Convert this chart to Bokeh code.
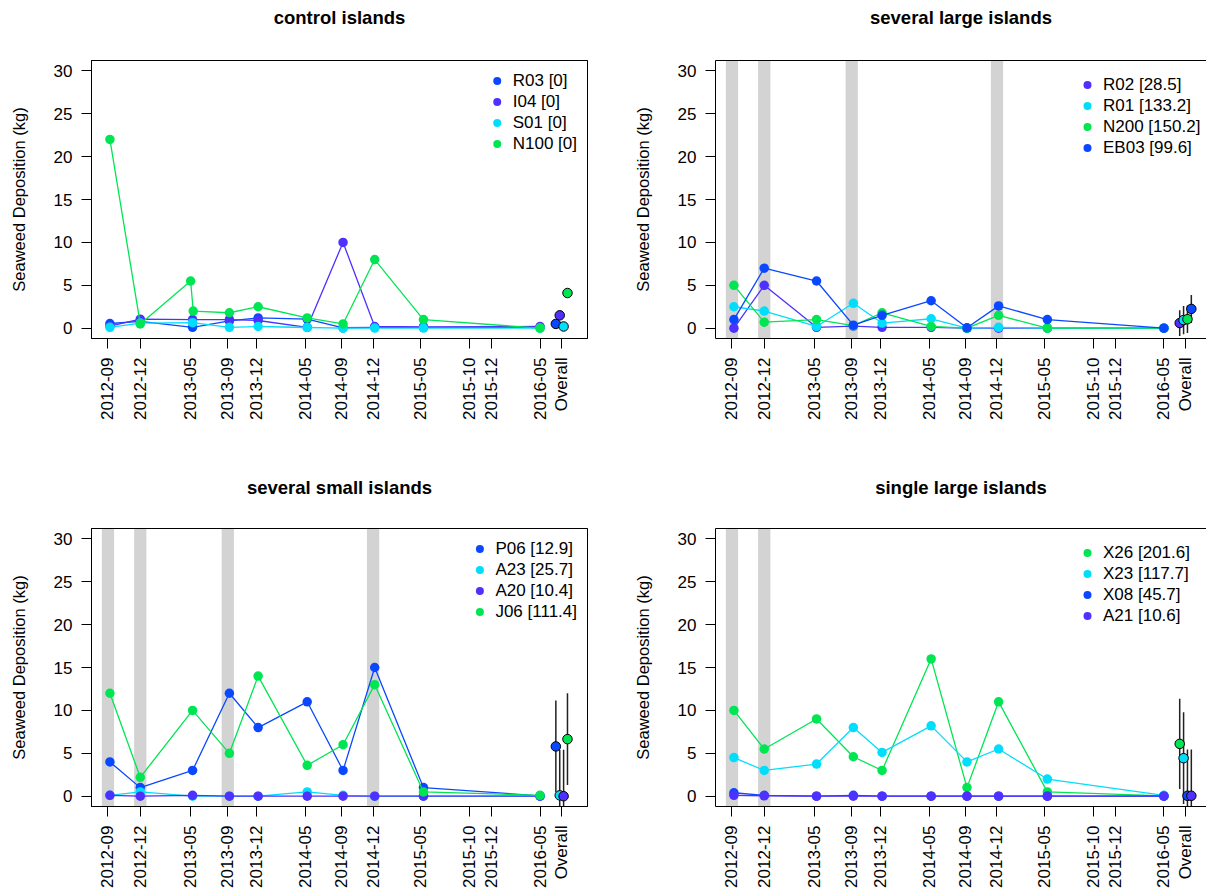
import numpy as np
from bokeh.plotting import figure
from bokeh.layouts import gridplot
from bokeh.models import (FixedTicker, Legend, LegendItem, BoxAnnotation,
                          LinearAxis, Range1d)
from bokeh.embed import file_html
from bokeh.resources import INLINE

FONT = "Liberation Sans"
BLUE = "#0A48FF"
PURPLE = "#4E30FF"
CYAN = "#00DEFB"
GREEN = "#00E653"

# ---------------- data ----------------
base_date = "2012-09-15"
tick_dates = ["2012-09-15", "2012-12-24", "2013-05-29", "2013-09-21", "2013-12-20",
              "2014-05-21", "2014-09-09", "2014-12-15", "2015-05-12", "2015-10-09",
              "2015-12-17", "2016-05-15"]
tick_labels = ["2012-09", "2012-12", "2013-05", "2013-09", "2013-12", "2014-05",
               "2014-09", "2014-12", "2015-05", "2015-10", "2015-12", "2016-05"]
overall_date = "2016-07-21"
overall_label = "Overall"
y_ticks = [0, 5, 10, 15, 20, 25, 30]

sample_dates = ["2012-09-21", "2012-12-24", "2013-06-04", "2013-09-26", "2013-12-24",
                "2014-05-25", "2014-09-13", "2014-12-20", "2015-05-20", "2016-05-15"]
n100_dates = ["2012-09-21", "2012-12-24", "2013-05-29", "2013-06-06", "2013-09-26",
              "2013-12-24", "2014-05-25", "2014-09-13", "2014-12-20", "2015-05-20",
              "2016-05-15"]

# control islands
ctrl_title = "control islands"
ctrl_names = ["R03 [0]", "I04 [0]", "S01 [0]", "N100 [0]"]
ctrl_colors = [BLUE, PURPLE, CYAN, GREEN]
ctrl_R03 = [0.55, 0.8, 0.1, 0.85, 1.2, 1.05, 0.05, 0.1, 0.1, 0.1]
ctrl_I04 = [0.25, 1.05, 1.0, 1.0, 0.9, 0.1, 10.0, 0.2, 0.15, 0.2]
ctrl_S01 = [0.1, 0.6, 0.65, 0.1, 0.2, 0.08, 0.0, 0.02, 0.02, 0.02]
ctrl_N100 = [22.0, 0.5, 5.5, 2.0, 1.8, 2.5, 1.2, 0.5, 8.0, 1.0, 0.0]
ctrl_overall = [0.5, 1.5, 0.2, 4.1]
ctrl_err = None
ctrl_bands = []

# several large islands
large_title = "several large islands"
large_names = ["R02 [28.5]", "R01 [133.2]", "N200 [150.2]", "EB03 [99.6]"]
large_colors = [PURPLE, CYAN, GREEN, BLUE]
large_R02 = [0.0, 5.0, 0.1, 0.25, 0.1, 0.1, 0.0, 0.0, 0.0, 0.0]
large_R01 = [2.5, 2.0, 0.2, 2.9, 0.6, 1.1, 0.0, 0.1, 0.0, 0.0]
large_N200 = [5.0, 0.7, 1.0, 0.3, 1.8, 0.2, 0.0, 1.5, 0.0, 0.0]
large_EB03 = [1.0, 7.0, 5.5, 0.35, 1.5, 3.2, 0.05, 2.6, 1.0, 0.0]
large_overall = [0.6, 0.95, 1.05, 2.25]
large_err = [1.5, 1.65, 1.6, 1.63]
large_bands = ["2012-09-15", "2012-12-24", "2013-09-21", "2014-12-15"]

# several small islands
small_title = "several small islands"
small_names = ["P06 [12.9]", "A23 [25.7]", "A20 [10.4]", "J06 [111.4]"]
small_colors = [BLUE, CYAN, PURPLE, GREEN]
small_P06 = [4.0, 1.0, 3.0, 12.0, 8.0, 11.0, 3.0, 15.0, 1.0, 0.05]
small_A23 = [0.1, 0.5, 0.0, 0.0, 0.0, 0.5, 0.1, 0.0, 0.0, 0.0]
small_A20 = [0.1, 0.0, 0.1, 0.0, 0.0, 0.0, 0.0, 0.0, 0.0, 0.0]
small_J06 = [12.0, 2.2, 10.0, 5.0, 14.0, 3.6, 6.0, 13.0, 0.5, 0.1]
small_overall = [5.8, 0.1, 0.0, 6.65]
small_err = [5.35, 5.3, 5.4, 5.35]
small_bands = ["2012-09-15", "2012-12-24", "2013-09-21", "2014-12-15"]

# single large islands
single_title = "single large islands"
single_names = ["X26 [201.6]", "X23 [117.7]", "X08 [45.7]", "A21 [10.6]"]
single_colors = [GREEN, CYAN, BLUE, PURPLE]
single_X26 = [10.0, 5.5, 9.0, 4.6, 3.0, 16.0, 1.0, 11.0, 0.5, 0.05]
single_X23 = [4.5, 3.0, 3.75, 8.0, 5.1, 8.2, 4.0, 5.5, 2.0, 0.1]
single_X08 = [0.4, 0.1, 0.0, 0.1, 0.0, 0.0, 0.0, 0.0, 0.0, 0.0]
single_A21 = [0.1, 0.05, 0.0, 0.0, 0.0, 0.0, 0.0, 0.0, 0.0, 0.0]
single_overall = [6.1, 4.43, 0.05, 0.05]
single_err = [5.25, 5.35, 5.4, 5.4]
single_bands = ["2012-09-15", "2012-12-24"]


def to_days(dates):
    b = np.datetime64(base_date, "D")
    return [int((np.datetime64(d, "D") - b) / np.timedelta64(1, "D")) for d in dates]


tick_days = to_days(tick_dates)
overall_day = to_days([overall_date])[0]
all_ticks = tick_days + [overall_day]
overrides = {d: l for d, l in zip(all_ticks, tick_labels + [overall_label])}

DODGE = 12      # days between overall markers
BAND_HALF = 19  # half width of grey bands in days
FRAME_H = 278


def panel(title, names, colors, dates_list, values_list, overall, err, bands, col, row):
    left = col == 0
    top = row == 0
    p = figure(frame_width=496 if left else 491, frame_height=FRAME_H,
               min_border_left=91 if left else 112,
               min_border_right=16 if left else 0,
               min_border_top=60 if top else 82,
               min_border_bottom=108 if top else 86,
               x_range=Range1d(-51, 1485 if left else 1470),
               y_range=Range1d(-1.2, 31.2),
               output_backend="svg", toolbar_location=None, title=title)
    p.background_fill_color = "white"
    p.border_fill_color = "white"
    p.xgrid.visible = False
    p.ygrid.visible = False

    # top axis: draws the upper edge of the box and spaces the title upward
    ta = LinearAxis(ticker=FixedTicker(ticks=[]), major_tick_line_color=None,
                    minor_tick_line_color=None, major_label_text_font_size="10px",
                    major_label_text_alpha=0,
                    axis_line_color="black", major_tick_out=25, major_tick_in=0,
                    major_label_standoff=0)
    p.add_layout(ta, "above")

    p.title.text_font = FONT
    p.title.text_font_size = "18.5px"
    p.title.text_font_style = "bold"
    p.title.align = "center"
    p.title.vertical_align = "top"
    p.title.text_color = "black"
    p.title.standoff = 12 if top else 8

    for b in bands:
        d = to_days([b])[0]
        p.add_layout(BoxAnnotation(left=d - BAND_HALF, right=d + BAND_HALF,
                                   fill_color="#D3D3D3", fill_alpha=1.0,
                                   line_alpha=0, level="underlay"))

    items = []
    for name, c, ds, vs in zip(names, colors, dates_list, values_list):
        xs = to_days(ds)
        p.line(xs, vs, line_color=c, line_width=1.3)
        r = p.scatter(xs, vs, size=9.5, fill_color=c, line_color=c, line_width=0)
        items.append(LegendItem(label=name, renderers=[r]))

    ox = [overall_day + (i - 1.5) * DODGE for i in range(len(overall))]
    if err is not None:
        p.segment(ox, [m - e for m, e in zip(overall, err)],
                  ox, [m + e for m, e in zip(overall, err)],
                  line_color="#222222", line_width=1.5)
    p.scatter(ox, overall, size=9.5, fill_color=colors, line_color="black", line_width=1)

    leg_kw = dict(items=items, margin=0, border_line_alpha=0, background_fill_alpha=0,
                  label_text_font=FONT, label_text_font_size="17px",
                  label_text_color="black",
                  glyph_width=20, glyph_height=21, label_height=21,
                  spacing=0, label_standoff=6)
    if left:
        leg = Legend(location="top_right", padding=10, **leg_kw)
    else:
        leg = Legend(location=(356, 174), padding=6, **leg_kw)
    p.add_layout(leg)

    # axes
    p.xaxis.ticker = FixedTicker(ticks=all_ticks)
    p.xaxis.major_label_overrides = overrides
    p.xaxis.major_label_orientation = np.pi / 2
    p.yaxis.ticker = FixedTicker(ticks=y_ticks)
    p.yaxis.major_label_orientation = "horizontal"
    for ax in (p.below[0], p.yaxis[0]):
        ax.major_label_text_font = FONT
        ax.major_label_text_font_size = "17px"
        ax.major_label_text_color = "black"
        ax.major_tick_out = 10
        ax.major_tick_in = 0
        ax.minor_tick_line_color = None
        ax.major_tick_line_color = "black"
        ax.axis_line_color = "black"
        ax.major_label_standoff = 9
    p.yaxis.axis_label = "Seaweed Deposition (kg)"
    p.yaxis.axis_label_text_font = FONT
    p.yaxis.axis_label_text_font_size = "16.5px"
    p.yaxis.axis_label_text_font_style = "normal"
    p.yaxis.axis_label_text_color = "black"
    p.yaxis.axis_label_standoff = 23

    if left:
        p.outline_line_color = "black"
        p.outline_line_width = 1
        p.outline_line_alpha = 1
    else:
        p.outline_line_color = None
    return p


p1 = panel(ctrl_title, ctrl_names, ctrl_colors,
           [sample_dates, sample_dates, sample_dates, n100_dates],
           [ctrl_R03, ctrl_I04, ctrl_S01, ctrl_N100],
           ctrl_overall, ctrl_err, ctrl_bands, 0, 0)
p2 = panel(large_title, large_names, large_colors, [sample_dates] * 4,
           [large_R02, large_R01, large_N200, large_EB03],
           large_overall, large_err, large_bands, 1, 0)
p3 = panel(small_title, small_names, small_colors, [sample_dates] * 4,
           [small_P06, small_A23, small_A20, small_J06],
           small_overall, small_err, small_bands, 0, 1)
p4 = panel(single_title, single_names, single_colors, [sample_dates] * 4,
           [single_X26, single_X23, single_X08, single_A21],
           single_overall, single_err, single_bands, 1, 1)

grid = gridplot([[p1, p2], [p3, p4]], toolbar_location=None)

open("out.html", "w").write(file_html(grid, INLINE))
